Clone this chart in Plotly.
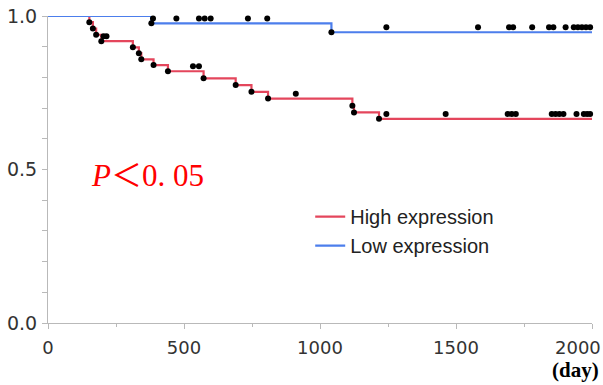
import numpy as np
import plotly.graph_objects as go

# ---- data ----
FOLLOW_UP_END = 2000

high_event_days = [152, 165, 177, 196, 312, 334, 343, 388, 441, 572, 690, 748, 809, 1119, 1125, 1217]
high_survival = [0.980, 0.959, 0.939, 0.918, 0.898, 0.879, 0.859, 0.840, 0.820, 0.797,
                 0.775, 0.753, 0.731, 0.708, 0.686, 0.665]
high_censor_days = [204, 215, 533, 555, 911, 1244, 1462, 1690, 1705, 1720,
                    1852, 1866, 1880, 1895, 1943, 1970, 1982, 1993]

low_event_days = [380, 1042]
low_survival = [0.976, 0.947]
low_censor_days = [386, 472, 555, 576, 598, 735, 806, 1244, 1581, 1695, 1710, 1780,
                   1842, 1858, 1903, 1933, 1948, 1963, 1978, 1993]

x_tick_vals = [0, 500, 1000, 1500, 2000]
x_tick_text = ["0", "500", "1000", "1500", "2000"]
y_tick_vals = [0.0, 0.5, 1.0]
y_tick_text = ["0.0", "0.5", "1.0"]

series_names = ["High expression", "Low expression"]
series_colors = ["#E4465C", "#4C7EEC"]

# style constant: censor dots drawn slightly above the curve
CENSOR_LIFT = 0.016


def step_xy(days, surv):
    x = [0] + list(days) + [FOLLOW_UP_END]
    y = [1.0] + list(surv) + [surv[-1]]
    return x, y


def surv_at(days, surv, t):
    idx = np.searchsorted(np.array(days), np.array(t), side="right") - 1
    s = np.concatenate([[1.0], surv])
    return s[idx + 1]


fig = go.Figure()

groups = [
    (high_event_days, high_survival, high_censor_days),
    (low_event_days, low_survival, low_censor_days),
]

for (ev, sv, cz), name, col in zip(groups, series_names, series_colors):
    x, y = step_xy(ev, sv)
    fig.add_trace(go.Scatter(x=x, y=y, mode="lines", line=dict(shape="hv", color=col, width=2.2),
                             name=name, showlegend=True, hoverinfo="skip"))

for (ev, sv, cz), name, col in zip(groups, series_names, series_colors):
    fig.add_trace(go.Scatter(x=ev, y=sv, mode="markers",
                             marker=dict(color="black", size=6), showlegend=False,
                             cliponaxis=False))
    cy = surv_at(ev, sv, cz) + CENSOR_LIFT
    fig.add_trace(go.Scatter(x=cz, y=cy, mode="markers",
                             marker=dict(color="black", size=6), showlegend=False,
                             cliponaxis=False))

axis_col = "#b9b9b9"
tick_font = dict(family="DejaVu Sans", size=18, color="#333333")
ytick_font = dict(family="DejaVu Sans", size=19, color="#333333")

fig.update_xaxes(range=[0, FOLLOW_UP_END], showgrid=False, zeroline=False, automargin=False,
                 showline=True, linecolor=axis_col, linewidth=1,
                 ticks="outside", ticklen=5, tickcolor=axis_col,
                 tickvals=x_tick_vals, ticktext=x_tick_text[:-1] + [""],
                 tickfont=tick_font, ticklabelstandoff=3,
                 minor=dict(dtick=250, ticks="outside", ticklen=3, tickcolor=axis_col))
fig.update_yaxes(range=[0, 1], showgrid=False, zeroline=False, automargin=False,
                 showline=True, linecolor=axis_col, linewidth=1,
                 ticks="outside", ticklen=5, tickcolor=axis_col,
                 tickvals=y_tick_vals, ticktext=y_tick_text, tickfont=ytick_font,
                 ticklabelstandoff=1,
                 minor=dict(dtick=0.1, ticks="outside", ticklen=5, tickcolor=axis_col))

fig.add_annotation(x=x_tick_vals[-1], y=0, xref="x", yref="paper", text=x_tick_text[-1],
                   showarrow=False, xanchor="right", yanchor="top", xshift=11, yshift=-12,
                   font=tick_font)
fig.add_annotation(x=1, y=0, xref="paper", yref="paper", text="<b>(day)</b>",
                   showarrow=False, xanchor="right", yanchor="top", xshift=9, yshift=-33,
                   font=dict(family="Liberation Serif", size=21, color="black"))
fig.add_annotation(x=0.075, y=0.48, xref="paper", yref="paper",
                   text="<i>P</i>＜0. 05", showarrow=False, xanchor="left", yanchor="middle",
                   font=dict(family="Liberation Serif, Noto Sans CJK JP", size=31, color="#FF0000"))

fig.update_layout(
    width=603, height=385,
    margin=dict(l=48, r=11, t=16, b=62, autoexpand=False),
    paper_bgcolor="white", plot_bgcolor="white",
    legend=dict(x=0.482, y=0.41, xanchor="left", yanchor="top",
                font=dict(family="Liberation Sans", size=20, color="#222222"),
                bgcolor="rgba(0,0,0,0)", tracegroupgap=0, itemwidth=30),
)

fig.write_html("out.html", config={"displayModeBar": False},
               post_script="document.body.style.margin='0px';document.body.style.overflow='hidden';")
